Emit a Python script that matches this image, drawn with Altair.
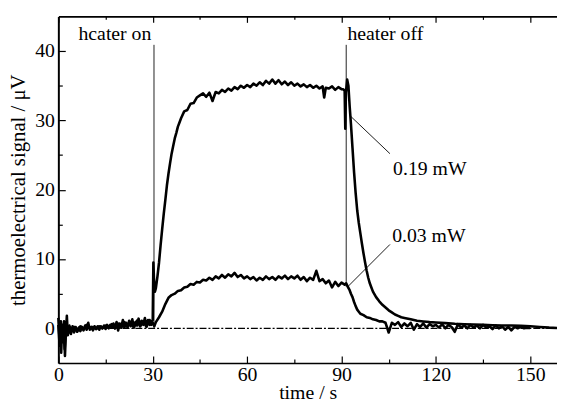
import altair as alt
import pandas as pd

FONT = "Liberation Serif"

# time (s), signal (uV)
hi_points = [
    (0, 1.5), (0.3, -1.0), (0.6, 0.8), (0.9, -3.5), (1.2, 0.5), (1.5, -2.0), (1.8, 1.0), (2.1, -4.0),
    (2.4, -0.5), (2.7, 1.8), (3, -1.0), (3.5, 0.2), (4, -0.8), (4.5, 0.3), (5, -0.6), (5.5, 0.2),
    (6, -0.5), (6.5, 0.1), (7, -0.4), (7.5, 0.2), (8, -0.3), (8.5, 0.4), (9, -0.2), (9.5, 0.8),
    (10, -0.2), (10.5, 0.2), (11, -0.3), (11.5, 0.3), (12, -0.1), (12.5, 0.3), (13, -0.2), (13.5, 0.3),
    (14, 0.0), (14.5, 0.4), (15, -0.1), (15.5, 0.5), (16, 0.0), (16.5, 0.5), (17, 0.1), (17.5, 0.7),
    (18, 0.0), (18.5, 0.9), (19, -0.3), (19.5, 0.7), (20, 0.2), (20.5, 1.2), (21, 0.1), (21.5, 0.8),
    (22, 0.2), (22.5, 1.1), (23, 0.3), (23.5, 1.3), (24, 0.2), (24.5, 0.9), (25, 0.4), (25.5, 1.4),
    (26, 0.3), (26.5, 1.1), (27, 0.5), (27.5, 1.5), (28, 0.3), (28.5, 1.2), (29, 0.5), (29.5, 0.9),
    (30, 1.2), (30.2, 9.5), (30.4, 7.0), (30.7, 5.3), (31, 5.8), (31.5, 7.5), (32, 9.5), (32.5, 12.0),
    (33, 14.3), (33.5, 16.5), (34, 18.5), (34.5, 20.6), (35, 22.3), (35.5, 23.8), (36, 25.2),
    (36.5, 26.3), (37, 27.4), (37.5, 28.2), (38, 29.1), (38.5, 29.7), (39, 30.3), (40, 31.3),
    (41, 31.5), (42, 32.4), (43, 32.5), (44, 33.3), (45, 33.6), (46, 33.9), (47, 33.4), (48, 34.0),
    (49, 32.8), (50, 34.1), (51, 33.9), (52, 34.4), (53, 34.1), (54, 34.6), (55, 34.3), (56, 34.8),
    (57, 34.5), (58, 35.0), (59, 34.7), (60, 35.1), (61, 34.8), (62, 35.3), (63, 35.0), (64, 35.5),
    (65, 35.1), (66, 35.7), (67, 35.3), (68, 35.9), (69, 35.3), (70, 35.8), (71, 35.2), (72, 35.6),
    (73, 35.1), (74, 35.5), (75, 35.0), (76, 35.3), (77, 34.9), (78, 35.2), (79, 34.8), (80, 35.1),
    (81, 34.7), (82, 35.0), (83, 34.6), (84, 34.9), (84.5, 33.3), (85, 34.7), (86, 34.6), (87, 34.9),
    (88, 34.4), (89, 34.8), (90, 34.5), (90.5, 34.5), (91, 34.3), (91.2, 28.8), (91.4, 34.0),
    (91.8, 35.9), (92.2, 35.0), (92.6, 32.0), (93, 29.5), (93.5, 26.0), (94, 22.5), (94.5, 19.5),
    (95, 17.0), (95.5, 15.2), (96, 13.7), (96.5, 12.2), (97, 10.8), (97.5, 9.5), (98, 8.3), (98.5, 7.3),
    (99, 6.5), (99.5, 5.9), (100, 5.3), (101, 4.5), (102, 3.9), (103, 3.4), (104, 3.0), (105, 2.6),
    (106, 2.3), (107, 2.0), (108, 1.8), (109, 1.6), (110, 1.5), (112, 1.3), (114, 1.1), (116, 1.0),
    (118, 0.9), (120, 0.85), (123, 0.75), (126, 0.65), (129, 0.6), (132, 0.55), (135, 0.5),
    (138, 0.45), (141, 0.4), (144, 0.4), (147, 0.35), (150, 0.3), (153, 0.2), (156, 0.1), (158.5, 0.05),
]

lo_points = [
    (0, 0.5), (0.4, -2.5), (0.8, 1.0), (1.2, -1.5), (1.6, 0.3), (2, -3.0), (2.5, 0.8), (3, -0.5),
    (3.5, 0.4), (4, -0.3), (5, 0.2), (6, -0.4), (7, 0.3), (8, -0.1), (9, 0.5), (10, 0.0), (11, 0.2),
    (12, -0.1), (13, 0.3), (14, 0.0), (15, 0.4), (16, 0.1), (17, 0.6), (18, 0.0), (19, 0.7), (20, 0.1),
    (21, 0.9), (22, 0.2), (23, 0.8), (24, 0.1), (25, 1.1), (26, 0.3), (27, 1.0), (28, 0.2), (29, 1.2),
    (29.5, 0.5), (30, 0.8), (30.5, 0.3), (31, 0.9), (32, 1.6), (33, 2.4), (34, 3.5), (35, 4.4),
    (36, 4.8), (37, 5.0), (38, 5.4), (39, 5.5), (40, 5.9), (41, 6.0), (42, 6.4), (43, 6.3), (44, 6.7),
    (45, 6.6), (46, 7.0), (47, 6.9), (48, 7.3), (49, 7.0), (50, 7.5), (51, 7.2), (52, 7.7), (53, 7.3),
    (54, 7.8), (55, 7.5), (56, 8.0), (57, 7.4), (58, 7.7), (59, 7.2), (60, 7.5), (61, 7.1), (62, 7.4),
    (63, 6.9), (64, 7.3), (65, 7.0), (66, 7.5), (67, 7.1), (68, 7.4), (69, 7.0), (70, 7.5), (71, 7.2),
    (72, 7.6), (73, 7.1), (74, 7.5), (75, 7.2), (76, 7.6), (77, 7.0), (78, 7.4), (79, 6.8), (80, 7.3),
    (81, 7.0), (82, 8.3), (83, 6.8), (84, 7.1), (85, 6.5), (86, 6.9), (87, 5.9), (88, 6.7), (89, 6.1),
    (90, 6.6), (91, 6.3), (91.5, 6.5), (92, 6.0), (92.5, 5.6), (93, 5.0), (93.5, 4.5), (94, 3.8),
    (94.5, 3.2), (95, 2.7), (95.5, 2.4), (96, 2.1), (97, 1.9), (98, 1.6), (99, 1.5), (100, 1.3),
    (101, 1.2), (102, 1.0), (103, 1.0), (104, 0.8), (105, -0.6), (106, 0.8), (107, 0.5), (108, 0.9),
    (109, 0.2), (110, 0.7), (111, 0.3), (112, 0.8), (113, -0.2), (114, 0.6), (115, 0.2), (116, 0.7),
    (117, 0.1), (118, 0.6), (119, 0.3), (120, 0.5), (121, 0.1), (122, 0.6), (123, 0.0), (124, 0.5),
    (125, 0.2), (126, -0.5), (127, 0.6), (128, 0.1), (129, 0.4), (130, 0.0), (131, 0.5), (132, 0.1),
    (133, 0.4), (134, 0.0), (135, 0.5), (136, 0.1), (137, 0.3), (138, -0.1), (139, 0.4), (140, 0.0),
    (141, 0.3), (142, -0.2), (143, 0.2), (144, -0.3), (145, 0.2), (146, 0.0), (147, 0.2), (148, 0.0),
    (149, 0.1), (150, 0.05),
]

zero_t = [0, 158.5]
zero_v = [0, 0]

heater_t = [30.4, 91.5]
heater_v1 = [0, 6.0]
heater_v2 = [40.9, 40.9]

label_text = ["hcater on", "heater off", "0.19 mW", "0.03 mW"]
label_t = [6.4, 91.9, 106.4, 106.1]
label_v = [41.6, 41.6, 22.1, 12.4]

leader_t1 = [92.9, 92.2]
leader_v1 = [30.6, 6.1]
leader_t2 = [105.4, 105.4]
leader_v2 = [25.2, 12.1]

x_major = [0, 30, 60, 90, 120, 150]
x_minor = [15, 45, 75, 105, 135]
y_major = [0, 10, 20, 30, 40]
y_minor = [5, 15, 25, 35]

X_DOMAIN = [0, 158.5]
Y_DOMAIN = [-5, 45]

xs = alt.Scale(domain=X_DOMAIN, nice=False, zero=False)
ys = alt.Scale(domain=Y_DOMAIN, nice=False, zero=False)

hi_df = pd.DataFrame(hi_points, columns=["t", "v"])
lo_df = pd.DataFrame(lo_points, columns=["t", "v"])
zero_df = pd.DataFrame({"t": zero_t, "v": zero_v})
heat_df = pd.DataFrame({"t": heater_t, "v1": heater_v1, "v2": heater_v2})
lab_df = pd.DataFrame({"text": label_text, "t": label_t, "v": label_v})
lead_df = pd.DataFrame({"t1": leader_t1, "v1": leader_v1, "t2": leader_t2, "v2": leader_v2})

common_tick = dict(labels=False, domain=False, grid=False, title=None, tickColor="black",
                   tickWidth=1.2, ticks=True)

ax_x_main = alt.Axis(orient="bottom", values=x_major, format="d", labelFont=FONT, labelFontSize=20,
                     labelColor="black", ticks=False, tickSize=0, domain=True, domainColor="black",
                     domainWidth=1.6, grid=False, title="time / s", titleFont=FONT, titleFontSize=20,
                     titleFontWeight="normal", titleColor="black", labelPadding=2, titlePadding=-2,
                     labelFlush=False)
ax_y_main = alt.Axis(orient="left", values=y_major, format="d", labelFont=FONT, labelFontSize=20,
                     labelColor="black", ticks=False, tickSize=0, domain=True, domainColor="black",
                     domainWidth=2, grid=False, title="thermoelectrical signal / μV", titleFont=FONT,
                     titleFontSize=21, titleFontWeight="normal", titleColor="black", labelPadding=4,
                     titlePadding=6, labelFlush=False)

ax_x_bmaj = alt.Axis(orient="bottom", values=x_major, tickSize=7, offset=-7, **common_tick)
ax_x_bmin = alt.Axis(orient="bottom", values=x_minor, tickSize=4, offset=-4, **common_tick)
ax_y_lmaj = alt.Axis(orient="left", values=y_major, tickSize=7, offset=-7, **common_tick)
ax_y_lmin = alt.Axis(orient="left", values=y_minor, tickSize=4, offset=-4, **common_tick)
ax_x_top = alt.Axis(orient="top", values=x_major, labels=False, ticks=False, tickSize=0, domain=True,
                    domainColor="black", domainWidth=1.6, grid=False, title=None)
ax_x_tmaj = alt.Axis(orient="top", values=x_major, tickSize=6, offset=-6, **common_tick)
ax_x_tmin = alt.Axis(orient="top", values=x_minor, tickSize=3, offset=-3, **common_tick)

zero_line = alt.Chart(zero_df).mark_line(color="black", strokeWidth=1.2, strokeDash=[7, 2, 2, 2]).encode(
    x=alt.X("t:Q", scale=xs, axis=ax_x_main), y=alt.Y("v:Q", scale=ys, axis=ax_y_main))

heat_rules = alt.Chart(heat_df).mark_rule(color="#222222", strokeWidth=1).encode(
    x=alt.X("t:Q", scale=xs, axis=ax_x_bmaj), y=alt.Y("v1:Q", scale=ys, axis=ax_y_lmaj), y2="v2:Q")

lo_line = alt.Chart(lo_df).mark_line(color="black", strokeWidth=2.6, strokeJoin="round").encode(
    x=alt.X("t:Q", scale=xs, axis=ax_x_bmin), y=alt.Y("v:Q", scale=ys, axis=ax_y_lmin))

hi_line = alt.Chart(hi_df).mark_line(color="black", strokeWidth=2.6, strokeJoin="round").encode(
    x=alt.X("t:Q", scale=xs, axis=ax_x_top), y=alt.Y("v:Q", scale=ys, axis=None))

leaders = alt.Chart(lead_df).mark_rule(color="black", strokeWidth=0.9).encode(
    x=alt.X("t1:Q", scale=xs, axis=ax_x_tmaj), y=alt.Y("v1:Q", scale=ys, axis=None),
    x2="t2:Q", y2="v2:Q")

texts = alt.Chart(lab_df).mark_text(align="left", baseline="alphabetic", font=FONT, fontSize=20,
                                    color="black").encode(
    x=alt.X("t:Q", scale=xs, axis=ax_x_tmin), y=alt.Y("v:Q", scale=ys, axis=None), text="text:N")

chart = alt.layer(zero_line, heat_rules, lo_line, hi_line, leaders, texts).resolve_axis(
    x="independent", y="independent"
).properties(
    width=505, height=351,
    padding={"left": 51, "top": 6, "right": 0, "bottom": 38},
    autosize=alt.AutoSizeParams(type="none"),
).configure_view(stroke=None)

chart.save("out.html", embed_options={"renderer": "svg", "actions": False})
